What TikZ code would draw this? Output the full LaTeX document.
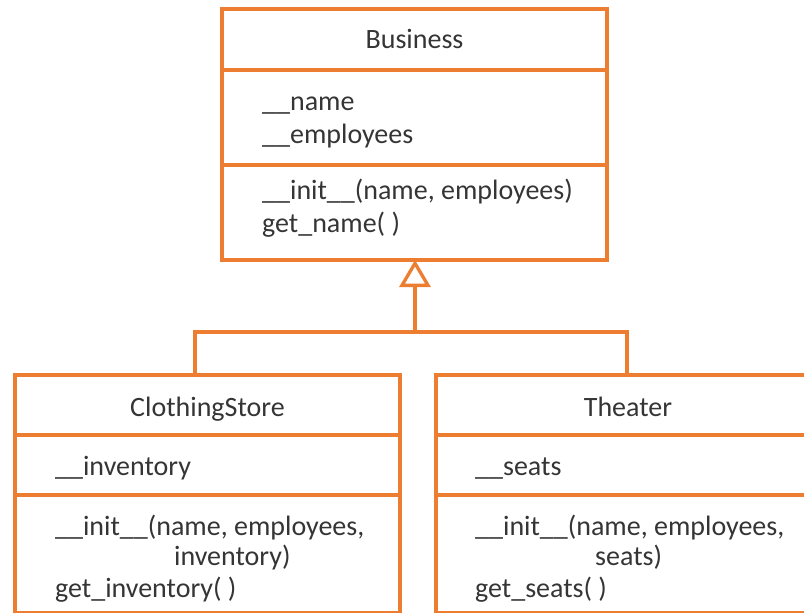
\documentclass[tikz,border=0pt]{standalone}
\usepackage{fontspec}
\setmainfont{Carlito}
\usetikzlibrary{arrows.meta}
\definecolor{umlorange}{HTML}{ED7D31}
\definecolor{umltext}{HTML}{353535}
\tikzset{
  umlbox/.style={draw=umlorange, line width=3.3pt, rectangle, outer sep=0pt, inner sep=0pt, anchor=north west},
  divider/.style={draw=umlorange, line width=3.3pt},
  conn/.style={draw=umlorange, line width=3.3pt},
  txt/.style={inner sep=0pt, anchor=base west, text=umltext, font=\fontsize{28}{33}\selectfont},
  title/.style={txt, anchor=base},
}
\begin{document}
\begin{tikzpicture}[x=1pt, y=-1pt]
\useasboundingbox (0,0) rectangle (804,613);
\clip (0,0) rectangle (804,613);

% Business class
\node[umlbox, minimum width=385pt, minimum height=251pt] (biz) at (222,9) {};
\draw[divider] (222,70) -- (607,70);
\draw[divider] (222,165) -- (607,165);
\node[title] (bizname) at (414.5,48) {Business};
\node[txt] (bizattr1) at (262,110) {\_\_name};
\node[txt] (bizattr2) at (262,143) {\_\_employees};
\node[txt] (bizop1) at (262,199) {\_\_init\_\_(name, employees)};
\node[txt] (bizop2) at (262,232) {get\_name( )};

% ClothingStore class
\node[umlbox, minimum width=385pt, minimum height=238pt] (cs) at (15,375) {};
\draw[divider] (15,435) -- (400,435);
\draw[divider] (15,495) -- (400,495);
\node[title] (csname) at (207.5,416) {ClothingStore};
\node[txt] (csattr1) at (55,475) {\_\_inventory};
\node[txt] (csop1) at (55,535) {\_\_init\_\_(name, employees,};
\node[txt] (csop1b) at (174,565) {inventory)};
\node[txt] (csop2) at (55,597) {get\_inventory( )};

% Theater class
\node[umlbox, minimum width=384pt, minimum height=238pt] (th) at (436,375) {};
\draw[divider] (436,435) -- (820,435);
\draw[divider] (436,495) -- (820,495);
\node[title] (thname) at (628,416) {Theater};
\node[txt] (thattr1) at (475,475) {\_\_seats};
\node[txt] (thop1) at (475,535) {\_\_init\_\_(name, employees,};
\node[txt] (thop1b) at (595,565) {seats)};
\node[txt] (thop2) at (475,597) {get\_seats( )};

% Generalization connectors
\coordinate (hub) at (415,332);
\coordinate (csTop) at ([xshift=-12.5pt]cs.north);
\coordinate (thTop) at ([xshift=-1pt]th.north);
\draw[conn] (csTop) -- (csTop |- hub) -- (thTop |- hub) -- (thTop);
\draw[conn, -{Triangle[open, length=27pt, width=31pt, line width=3.3pt]}] (hub) -- (hub |- biz.south);
\end{tikzpicture}
\end{document}
